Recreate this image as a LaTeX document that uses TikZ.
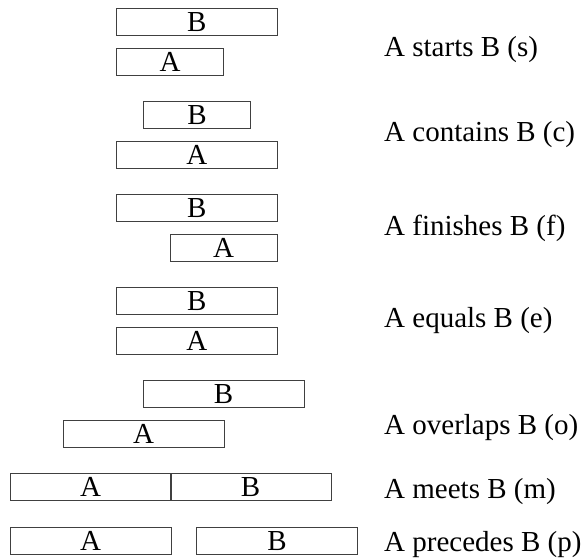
\documentclass[tikz,border=0pt]{standalone}
\usepackage{fontspec}
\setmainfont{Liberation Serif}
\begin{document}
\begin{tikzpicture}[x=1pt,y=1pt,
  box/.style={draw=black!75, line width=1pt, inner sep=0pt, minimum height=27pt, font=\fontsize{29}{32}\selectfont, text height=19pt, text depth=0pt},
  long/.style={box, minimum width=161pt},
  short/.style={box, minimum width=107pt},
  lab/.style={anchor=west, inner sep=0pt, font=\fontsize{29}{34}\selectfont}]
\useasboundingbox (0,0) rectangle (584,-559);
% row 1: starts
\node[long]  (b1) at (196.75,-22) {B};
\node[short] (a1) at (170,-62) {A};
\node[lab]   (l1) at (384,-50) {A starts B (s)};
% row 2: contains
\node[short] (b2) at (197,-115) {B};
\node[long]  (a2) at (196.75,-155) {A};
\node[lab]   (l2) at (384,-135) {A contains B (c)};
% row 3: finishes
\node[long]  (b3) at (196.75,-208) {B};
\node[short] (a3) at (223.5,-248) {A};
\node[lab]   (l3) at (384,-228) {A finishes B (f)};
% row 4: equals
\node[long]  (b4) at (196.75,-301) {B};
\node[long]  (a4) at (196.75,-341) {A};
\node[lab]   (l4) at (384,-321) {A equals B (e)};
% row 5: overlaps
\node[long]  (b5) at (223.5,-394) {B};
\node[long]  (a5) at (143.5,-434) {A};
\node[lab]   (l5) at (384,-428) {A overlaps B (o)};
% row 6: meets
\node[long]  (a6) at (90.5,-487) {A};
\node[long]  (b6) at (250.5,-487) {B};
\node[lab]   (l6) at (384,-492) {A meets B (m)};
% row 7: precedes
\node[long]  (a7) at (90.5,-540.5) {A};
\node[long]  (b7) at (277,-540.5) {B};
\node[lab]   (l7) at (384,-545) {A precedes B (p)};
\end{tikzpicture}
\end{document}
